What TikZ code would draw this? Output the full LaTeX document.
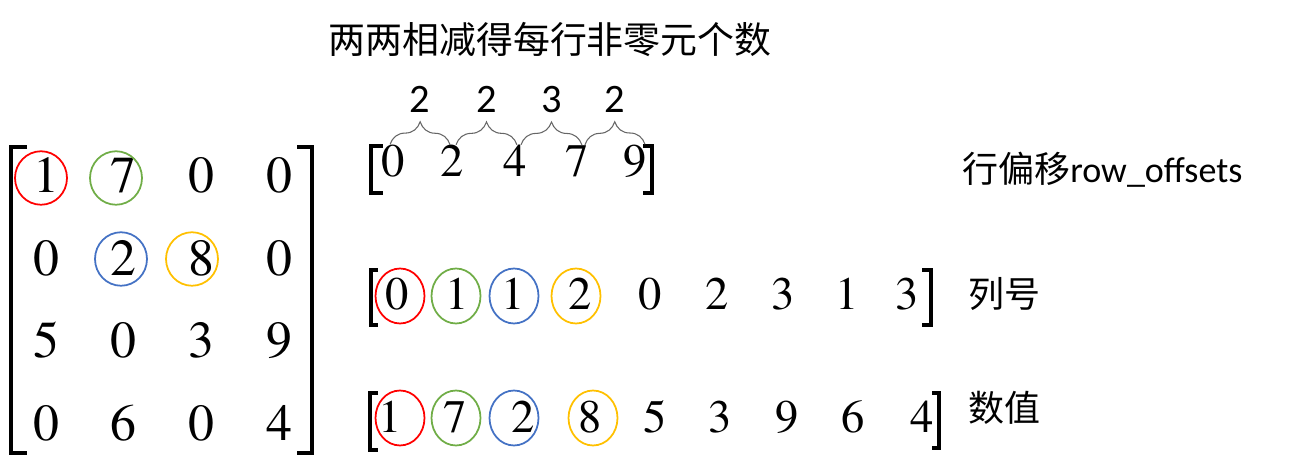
\documentclass[tikz,border=0pt]{standalone}
\usepackage{fontspec}
\newcommand\tms{\fontencoding{OT1}\fontfamily{ptm}\selectfont}
\newfontfamily\cjk{Noto Sans CJK SC}
\newfontfamily\calib{Carlito}
\usepackage{tikz}
\usetikzlibrary{shapes.geometric, decorations.pathreplacing}
\definecolor{ringred}{HTML}{FF0000}
\definecolor{ringgreen}{HTML}{70AD47}
\definecolor{ringblue}{HTML}{4472C4}
\definecolor{ringgold}{HTML}{FFC000}

\begin{document}
\begin{tikzpicture}[x=0.02cm, y=-0.02cm,
  big/.style={font=\tms\fontsize{29.5}{30}\selectfont, inner sep=0},
  d/.style={font=\tms\fontsize{26.5}{27}\selectfont, inner sep=0},
  num/.style={font=\calib\fontsize{23}{24}\selectfont, inner sep=0},
  lbl/.style={font=\cjk\fontsize{20.5}{22}\selectfont, inner sep=0, anchor=west},
  bk/.style={line width=2pt},
  sbk/.style={line width=1.8pt},
  br/.style={decorate, decoration={brace, amplitude=13pt}, draw=black!60, line width=0.6pt},
  ring/.style={draw=#1, ellipse, line width=1pt, inner sep=0, minimum width=0.98cm, minimum height=1.1cm},
  mring/.style={ring=#1, minimum width=1.04cm, minimum height=1.07cm}]
\useasboundingbox (0,0) rectangle (1294,465);
\node[lbl, font=\cjk\fontsize{21}{22}\selectfont, anchor=center] (title) at (550,40) {两两相减得每行非零元个数};
\foreach \row [count=\r] in {{1,7,0,0},{0,2,8,0},{5,0,3,9},{0,6,0,4}}
  \foreach \v [count=\c] in \row
    \node[big] (m\r\c) at ({46+77.7*(\c-1)}, {175+82.7*(\r-1)}) {\v};
\draw[bk] (27,147) -| (11,453) -- (27,453);
\draw[bk] (297,147) -| (312,453) -- (297,453);
\node[mring=ringred] (k1) at (41,178) {}; \node[mring=ringgreen] (k2) at (116,178) {};
\node[mring=ringblue] (k3) at (121,259) {}; \node[mring=ringgold] (k4) at (192,259) {};
\foreach \x/\v [count=\i] in {393/0, 452/2, 515/4, 577/7, 635/9}
  \node[d] (o\i) at (\x,161) {\v};
\draw[sbk] (383,146) -| (371,193) -- (383,193);
\draw[sbk] (643,146) -| (652,193) -- (643,193);
\draw[br] ([xshift=-1.7pt]o1.north) -- node[num, above=18pt] (g1) {2} ([xshift=-1.1pt]o2.north);
\draw[br] ([xshift=2.3pt]o2.north) -- node[num, above=18pt] (g2) {2} ([xshift=1.1pt]o3.north);
\draw[br] ([xshift=3.4pt]o3.north) -- node[num, above=18pt] (g3) {3} ([xshift=2.8pt]o4.north);
\draw[br] ([xshift=4.5pt]o4.north) -- node[num, above=18pt] (g4) {2} ([xshift=5.7pt]o5.north);
\node[lbl] (offlbl) at (962,170) {行偏移{\calib row\_offsets}};
\foreach \x/\v [count=\i] in {397/0, 457/1, 513/1, 580/2, 650/0, 717/2, 783/3, 847/1, 907/3}
  \node[d] (c\i) at (\x,294) {\v};
\draw[sbk] (378,270) -| (371,325) -- (378,325);
\draw[sbk] (922,270) -| (931,325) -- (922,325);
\node[ring=ringred] (p1) at (400,296) {}; \node[ring=ringgreen] (p2) at (456,296) {};
\node[ring=ringblue] (p3) at (514,296) {}; \node[ring=ringgold] (p4) at (576,296) {};
\node[lbl] (collbl) at (968,294) {列号};
\foreach \x/\v [count=\i] in {390/1, 455/7, 523/2, 590/8, 655/5, 720/3, 787/9, 853/6, 922/4}
  \node[d] (v\i) at (\x,417) {\v};
\draw[sbk] (378,393) -| (370,450) -- (378,450);
\draw[sbk] (932,393) -| (939,448) -- (932,448);
\node[ring=ringred] (q1) at (400,418) {}; \node[ring=ringgreen] (q2) at (456,418) {};
\node[ring=ringblue] (q3) at (514,418) {}; \node[ring=ringgold] (q4) at (593,418) {};
\node[lbl] (vallbl) at (968,408) {数值};
\end{tikzpicture}
\end{document}
